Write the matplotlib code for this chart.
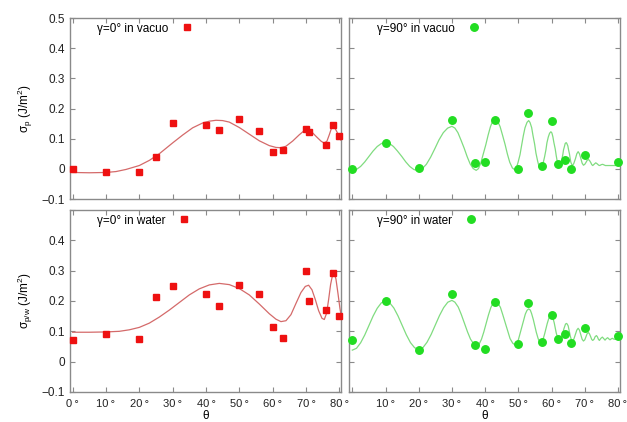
import matplotlib
matplotlib.use('Agg')
import matplotlib.pyplot as plt

# ---- measured points ----
theta_sq = [0, 10, 20, 25, 30, 40, 44, 50, 56, 60, 63, 70, 71, 76, 78, 80]
vac0_pts = [0.0, -0.011, -0.009, 0.04, 0.152, 0.145, 0.13, 0.165, 0.124, 0.056, 0.062, 0.131, 0.122, 0.08, 0.146, 0.11]
wat0_pts = [0.072, 0.091, 0.076, 0.213, 0.248, 0.222, 0.185, 0.252, 0.224, 0.114, 0.079, 0.299, 0.201, 0.169, 0.293, 0.151]

theta_ci = [0, 10, 20, 30, 37, 40, 43, 50, 53, 57, 60, 62, 64, 66, 70, 80]
vac90_pts = [0.0, 0.086, 0.004, 0.162, 0.02, 0.022, 0.163, 0.0, 0.184, 0.011, 0.158, 0.016, 0.03, 0.001, 0.047, 0.024]
wat90_pts = [0.071, 0.2, 0.037, 0.222, 0.054, 0.042, 0.197, 0.058, 0.192, 0.064, 0.153, 0.074, 0.091, 0.06, 0.112, 0.083]

# ---- fitted curves ----
vac0_fit_x = [0, 5, 10, 13, 16, 20, 23, 26, 30, 33, 36, 39, 41, 43, 45, 47, 50, 53, 56, 59,
              61, 62.5, 64, 66, 68, 69.3, 70.3, 71.5, 73, 74.5, 75.5, 76.3, 77, 77.6, 78.1, 78.7,
              79.5, 80.5]
vac0_fit_y = [-0.012, -0.013, -0.012, -0.009, -0.002, 0.011, 0.028, 0.05, 0.086, 0.112, 0.136, 0.152,
              0.158, 0.161, 0.16, 0.155, 0.137, 0.115, 0.093, 0.077, 0.071, 0.07, 0.075, 0.092, 0.113,
              0.125, 0.13, 0.125, 0.108, 0.092, 0.085, 0.092, 0.113, 0.133, 0.14, 0.135, 0.118, 0.095]

wat0_fit_x = [0, 5, 10, 14, 17, 20, 23, 26, 29, 32, 35, 38, 41, 44, 47, 50, 53, 56, 59, 61, 62.5,
              64, 65.5, 67, 68.5, 69.8, 70.8, 71.8, 72.8, 73.8, 74.8, 75.5, 76.2, 76.8, 77.4, 78,
              78.5, 79, 79.6, 80.2, 80.6]
wat0_fit_y = [0.097, 0.097, 0.098, 0.1, 0.105, 0.113, 0.127, 0.147, 0.17, 0.195, 0.22, 0.24, 0.253,
              0.258, 0.254, 0.241, 0.22, 0.19, 0.158, 0.14, 0.132, 0.135, 0.155, 0.192, 0.228, 0.248,
              0.252, 0.237, 0.205, 0.168, 0.143, 0.139, 0.16, 0.205, 0.255, 0.287, 0.292, 0.272,
              0.225, 0.175, 0.15]

vac90_fit_x = [0, 1.25, 2.5, 3.75, 5, 6.25, 7.5, 8.75, 10,
               11.2, 12.4, 13.6, 14.9, 16.1, 17.3, 18.5, 19.7,
               21, 22.3, 23.6, 24.9, 26.1, 27.4, 28.7, 30,
               30.9, 31.8, 32.7, 33.7, 34.6, 35.5, 36.4, 37.3,
               38.0, 38.7, 39.4, 40.2, 40.9, 41.6, 42.3, 43,
               43.7, 44.5, 45.2, 46, 46.7, 47.4, 48.2, 48.9,
               49.4, 49.9, 50.5, 51, 51.5, 52, 52.6, 53.1,
               53.5, 54, 54.4, 54.9, 55.3, 55.8, 56.2, 56.7,
               57.1, 57.5, 57.9, 58.3, 58.6, 59, 59.4, 59.8,
               60.1, 60.4, 60.7, 61.1, 61.4, 61.7, 62.0, 62.3,
               62.6, 62.8, 63.1, 63.4, 63.6, 63.9, 64.1, 64.4,
               64.6, 64.9, 65.1, 65.4, 65.6, 65.8, 66.1, 66.3,
               66.7, 67.2, 67.6, 68, 68.4, 68.8, 69.2, 69.6,
               70.0, 70.4, 70.7, 71.1, 71.4, 71.8, 72.1, 72.4,
               72.9, 73.3, 73.7, 74.2, 74.5, 75.0, 75.4, 75.8, 76.2, 77, 80.6]
vac90_fit_y = [-0.006, -0.002, 0.008, 0.023, 0.041, 0.059, 0.074, 0.084, 0.088,
               0.084, 0.074, 0.059, 0.041, 0.023, 0.008, -0.002, -0.006,
               0.0, 0.015, 0.039, 0.068, 0.096, 0.12, 0.135, 0.141,
               0.135, 0.12, 0.096, 0.068, 0.04, 0.016, 0.001, -0.005,
               0.001, 0.02, 0.048, 0.08, 0.112, 0.14, 0.159, 0.165,
               0.159, 0.14, 0.113, 0.081, 0.049, 0.022, 0.003, -0.003,
               0.003, 0.021, 0.047, 0.079, 0.11, 0.136, 0.154, 0.16,
               0.154, 0.137, 0.111, 0.082, 0.052, 0.026, 0.009, 0.003,
               0.008, 0.021, 0.04, 0.063, 0.086, 0.105, 0.118, 0.123,
               0.119, 0.106, 0.087, 0.066, 0.044, 0.025, 0.012, 0.008,
               0.011, 0.02, 0.032, 0.048, 0.063, 0.075, 0.084, 0.087,
               0.084, 0.076, 0.064, 0.049, 0.034, 0.022, 0.014, 0.011,
               0.018, 0.034, 0.05, 0.057, 0.05, 0.035, 0.019, 0.012,
               0.015, 0.022, 0.028, 0.031, 0.028, 0.021, 0.014, 0.011,
               0.016, 0.02, 0.017, 0.012, 0.011, 0.014, 0.015, 0.013, 0.011, 0.011, 0.011]

wat90_fit_x = [0, 1.25, 2.5, 3.75, 5, 6.25, 7.5, 8.75, 10,
               11.25, 12.5, 13.75, 15, 16.25, 17.5, 18.75, 20,
               21.25, 22.5, 23.75, 25, 26.25, 27.5, 28.75, 30,
               30.9, 31.9, 32.8, 33.75, 34.7, 35.6, 36.6, 37.5,
               38.2, 38.9, 39.6, 40.3, 41, 41.7, 42.4, 43.1,
               43.8, 44.6, 45.3, 46.05, 46.8, 47.5, 48.3, 49,
               49.5, 50, 50.5, 51.05, 51.6, 52.1, 52.6, 53.1,
               53.6, 54, 54.5, 54.95, 55.4, 55.9, 56.3, 56.8,
               57.2, 57.5, 57.9, 58.3, 58.7, 59.1, 59.4, 59.8,
               60.1, 60.45, 60.8, 61.1, 61.4, 61.75, 62.1, 62.4,
               62.7, 62.9, 63.2, 63.45, 63.7, 64.0, 64.2, 64.5,
               64.7, 65.0, 65.2, 65.4, 65.6, 65.85, 66.1, 66.3,
               66.7, 67.15, 67.6, 68, 68.4, 68.8, 69.2, 69.6,
               70.0, 70.35, 70.7, 71.1, 71.4, 71.75, 72.1, 72.4,
               72.8, 73.1, 73.5, 73.8, 74.1, 74.4, 74.85, 75.3, 75.7, 76.1, 76.5, 76.9,
               77.25, 77.6, 77.95, 78.3, 78.8, 80.6]
wat90_fit_y = [0.038, 0.044, 0.062, 0.088, 0.119, 0.15, 0.176, 0.194, 0.2,
               0.194, 0.177, 0.151, 0.12, 0.089, 0.063, 0.046, 0.04,
               0.046, 0.064, 0.09, 0.121, 0.152, 0.178, 0.196, 0.202,
               0.196, 0.18, 0.156, 0.127, 0.098, 0.074, 0.058, 0.052,
               0.058, 0.074, 0.098, 0.126, 0.154, 0.178, 0.194, 0.2,
               0.194, 0.179, 0.155, 0.128, 0.1, 0.076, 0.061, 0.055,
               0.06, 0.072, 0.092, 0.115, 0.137, 0.157, 0.169, 0.174,
               0.17, 0.158, 0.139, 0.118, 0.097, 0.078, 0.066, 0.062,
               0.066, 0.076, 0.091, 0.109, 0.126, 0.141, 0.151, 0.155,
               0.152, 0.142, 0.128, 0.112, 0.095, 0.081, 0.071, 0.068,
               0.07, 0.076, 0.086, 0.097, 0.108, 0.118, 0.124, 0.126,
               0.124, 0.118, 0.108, 0.097, 0.086, 0.076, 0.07, 0.068,
               0.074, 0.089, 0.104, 0.11, 0.104, 0.089, 0.074, 0.068,
               0.072, 0.082, 0.092, 0.096, 0.092, 0.083, 0.073, 0.07,
               0.074, 0.082, 0.086, 0.082, 0.074, 0.07, 0.077, 0.081, 0.076, 0.071, 0.076, 0.079,
               0.075, 0.072, 0.075, 0.077, 0.074, 0.074]

xticks = [0, 10, 20, 30, 40, 50, 60, 70, 80]
yticks = [-0.1, 0, 0.1, 0.2, 0.3, 0.4, 0.5]
ytick_labels = ['\u22120.1', '0', '0.1', '0.2', '0.3', '0.4', '0.5']

RED = '#ee1111'
RED_LINE = '#d46a6a'
GREEN = '#22dd22'
GREEN_LINE = '#80dc80'
FRAME = '#8a8a8a'

plt.rcParams['font.family'] = ['Liberation Sans', 'DejaVu Sans']
plt.rcParams['mathtext.default'] = 'regular'
plt.rcParams['font.size'] = 8.5

fig = plt.figure(figsize=(6.27, 4.22), dpi=100)
ax_tl = fig.add_axes([0.1116, 0.5284, 0.4322, 0.4289])
ax_tr = fig.add_axes([0.5566, 0.5284, 0.4322, 0.4289])
ax_bl = fig.add_axes([0.1116, 0.0711, 0.4322, 0.4313])
ax_br = fig.add_axes([0.5566, 0.0711, 0.4322, 0.4313])

panels = [
    (ax_tl, theta_sq, vac0_pts, vac0_fit_x, vac0_fit_y, 's', RED, RED_LINE, '\u03b3=0\u00b0 in vacuo'),
    (ax_tr, theta_ci, vac90_pts, vac90_fit_x, vac90_fit_y, 'o', GREEN, GREEN_LINE, '\u03b3=90\u00b0 in vacuo'),
    (ax_bl, theta_sq, wat0_pts, wat0_fit_x, wat0_fit_y, 's', RED, RED_LINE, '\u03b3=0\u00b0 in water'),
    (ax_br, theta_ci, wat90_pts, wat90_fit_x, wat90_fit_y, 'o', GREEN, GREEN_LINE, '\u03b3=90\u00b0 in water'),
]

for ax, px, py, fx, fy, mk, col, lcol, lab in panels:
    ax.plot(fx, fy, color=lcol, lw=0.9, zorder=2)
    ax.plot(px, py, linestyle='none', marker=mk, ms=5.0 if mk == 's' else 5.4,
            color=col, mec=col, label=lab, zorder=3, clip_on=False)
    ax.set_ylim(-0.1, 0.5)
    ax.set_xticks(xticks)
    ax.set_yticks(yticks)
    ax.tick_params(direction='in', top=True, right=True, length=3.5, width=0.8,
                   color=FRAME, labelcolor='#222222', labelsize=8.5)
    ax.tick_params(axis='x', pad=5)
    for s in ax.spines.values():
        s.set_color(FRAME)
        s.set_linewidth(1.0)
    ax.legend(loc='upper left', bbox_to_anchor=(0.1 if ax in (ax_tl, ax_bl) else 0.105, 0.975),
              frameon=False, markerfirst=False, borderpad=0, borderaxespad=0,
              handlelength=1.8, handletextpad=0.7, fontsize=8.5)

ax_tl.set_xlim(-0.8, 80.5)
ax_bl.set_xlim(-0.8, 80.5)
ax_tr.set_xlim(-1.0, 80.6)
ax_br.set_xlim(-1.0, 80.6)

ax_tl.set_yticklabels(ytick_labels)
ax_bl.set_yticklabels(ytick_labels[:-1] + [''])
ax_tr.tick_params(labelleft=False)
ax_br.tick_params(labelleft=False)
ax_tl.tick_params(labelbottom=False)
ax_tr.tick_params(labelbottom=False)

ax_bl.set_xticklabels([f'{t}\u2009\u00b0' for t in xticks], fontsize=8)
ax_br.set_xticklabels([''] + [f'{t}\u2009\u00b0' for t in xticks[1:]], fontsize=8)

ax_bl.set_xlabel('\u03b8', labelpad=1)
ax_br.set_xlabel('\u03b8', labelpad=1)

ax_tl.set_ylabel(r'$\sigma_{p}$ (J/m$^2$)', labelpad=5)
ax_bl.set_ylabel(r'$\sigma_{p/w}$ (J/m$^2$)', labelpad=5)

fig.savefig('out.png', dpi=100)
plt.close(fig)
